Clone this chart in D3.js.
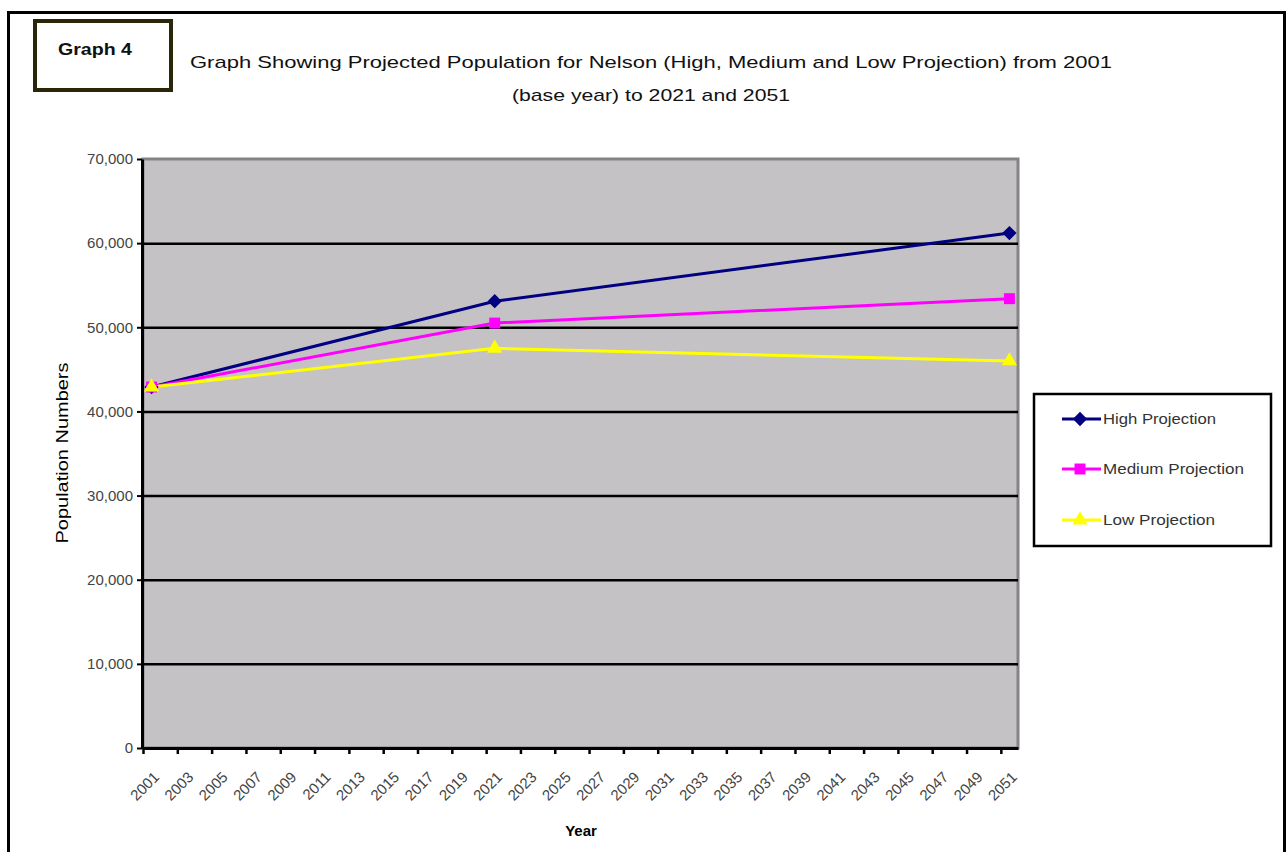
<!DOCTYPE html>
<html>
<head>
<meta charset="utf-8">
<script src="https://cdn.jsdelivr.net/npm/d3@7/dist/d3.min.js"></script>
<style>
  html, body { margin: 0; padding: 0; background: #fff; }
  svg { display: block; font-family: "Liberation Sans", Arial, sans-serif; }
</style>
</head>
<body>
<svg id="chart" width="1287" height="852"></svg>
<script>
// Projected population for Nelson, three projection scenarios
const firstYear = 2001;
const lastYear = 2051;
const tickYears = [2001, 2003, 2005, 2007, 2009, 2011, 2013, 2015, 2017, 2019, 2021, 2023, 2025,
                   2027, 2029, 2031, 2033, 2035, 2037, 2039, 2041, 2043, 2045, 2047, 2049, 2051];
const yTicks = [0, 10000, 20000, 30000, 40000, 50000, 60000, 70000];
const dataYears = [2001, 2021, 2051];
const highProjection = [42900, 53100, 61200];
const mediumProjection = [42900, 50500, 53400];
const lowProjection = [42900, 47500, 46000];
const seriesNames = ["High Projection", "Medium Projection", "Low Projection"];

const diamond = d3.symbolDiamond2 || d3.symbolDiamond;
const series = [
  { name: seriesNames[0], values: highProjection, color: "#000080", symbol: diamond, size: 130, legendLen: 113 },
  { name: seriesNames[1], values: mediumProjection, color: "#FF00FF", symbol: d3.symbolSquare, size: 120, legendLen: 141 },
  { name: seriesNames[2], values: lowProjection, color: "#FFFF00", symbol: d3.symbolTriangle, size: 100, legendLen: 112 }
];

const svg = d3.select("#chart");

// page frame
svg.append("rect")
  .attr("x", 8.5).attr("y", 12.5).attr("width", 1276).attr("height", 900)
  .attr("fill", "none").attr("stroke", "#000").attr("stroke-width", 3);

// "Graph 4" label box
svg.append("rect")
  .attr("x", 35).attr("y", 21).attr("width", 136).attr("height", 69)
  .attr("fill", "#fff").attr("stroke", "#2b2608").attr("stroke-width", 4);
svg.append("text")
  .attr("x", 95).attr("y", 55).attr("text-anchor", "middle")
  .attr("font-size", 17).attr("font-weight", "bold").attr("fill", "#111")
  .attr("textLength", 74).attr("lengthAdjust", "spacingAndGlyphs")
  .text("Graph 4");

// title
svg.append("text")
  .attr("x", 651).attr("y", 68).attr("text-anchor", "middle")
  .attr("font-size", 17).attr("fill", "#111")
  .attr("textLength", 922).attr("lengthAdjust", "spacingAndGlyphs")
  .text("Graph Showing Projected Population for Nelson (High, Medium and Low Projection) from 2001");
svg.append("text")
  .attr("x", 651).attr("y", 101).attr("text-anchor", "middle")
  .attr("font-size", 17).attr("fill", "#111")
  .attr("textLength", 278).attr("lengthAdjust", "spacingAndGlyphs")
  .text("(base year) to 2021 and 2051");

// plot area
const plot = { left: 143, right: 1018, top: 159, bottom: 748 };

const x = d3.scaleLinear()
  .domain([firstYear - 0.5, lastYear + 0.5])
  .range([plot.left, plot.right]);
const y = d3.scaleLinear()
  .domain([0, 70000])
  .range([plot.bottom, plot.top]);

svg.append("rect")
  .attr("x", plot.left).attr("y", plot.top)
  .attr("width", plot.right - plot.left).attr("height", plot.bottom - plot.top)
  .attr("fill", "#C4C2C5").attr("stroke", "#858385").attr("stroke-width", 3);

// horizontal gridlines
svg.append("g")
  .attr("transform", `translate(${plot.left},0)`)
  .call(d3.axisLeft(y).tickValues(yTicks.filter(d => d > 0 && d < 70000))
    .tickSize(-(plot.right - plot.left)).tickFormat(""))
  .call(g => g.select(".domain").remove())
  .call(g => g.selectAll("line").attr("stroke", "#000").attr("stroke-width", 2.5));

// y axis
svg.append("g")
  .attr("transform", `translate(${plot.left - 1},0)`)
  .call(d3.axisLeft(y).tickValues(yTicks).tickFormat(d3.format(",")).tickSize(5).tickSizeOuter(0))
  .call(g => g.select(".domain").attr("stroke", "#000").attr("stroke-width", 3))
  .call(g => g.selectAll(".tick line").attr("stroke", "#000").attr("stroke-width", 2))
  .call(g => g.selectAll(".tick text")
    .attr("font-size", 15).attr("fill", "#444").attr("x", -9)
    .attr("font-family", "'Liberation Sans', Arial, sans-serif"));

// x axis: tick marks at category boundaries
svg.append("g")
  .attr("transform", `translate(0,${plot.bottom})`)
  .call(d3.axisBottom(x).tickValues(tickYears.map(d => d - 0.5)).tickFormat("").tickSize(6).tickSizeOuter(0))
  .call(g => g.select(".domain").attr("stroke", "#000").attr("stroke-width", 3))
  .call(g => g.selectAll(".tick line").attr("stroke", "#000").attr("stroke-width", 2.5));

// x axis: rotated year labels at category centres
svg.append("g")
  .attr("transform", `translate(0,${plot.bottom})`)
  .call(d3.axisBottom(x).tickValues(tickYears).tickFormat(d3.format("d")).tickSize(0))
  .call(g => g.select(".domain").remove())
  .call(g => g.selectAll(".tick text")
    .attr("font-size", 15).attr("fill", "#444")
    .attr("font-family", "'Liberation Sans', Arial, sans-serif")
    .attr("text-anchor", "end")
    .attr("dy", null).attr("y", 0)
    .attr("transform", "translate(8,30) rotate(-45)"));

// axis titles
svg.append("text")
  .attr("transform", `translate(68,453) rotate(-90)`)
  .attr("text-anchor", "middle").attr("font-size", 16).attr("fill", "#000")
  .attr("textLength", 181).attr("lengthAdjust", "spacingAndGlyphs")
  .text("Population Numbers");
svg.append("text")
  .attr("x", 581).attr("y", 836).attr("text-anchor", "middle")
  .attr("font-size", 15).attr("font-weight", "bold").attr("fill", "#000")
  .text("Year");

// series lines and markers
const line = d3.line()
  .x((d, i) => x(dataYears[i]))
  .y(d => y(d));

series.forEach(s => {
  svg.append("path")
    .datum(s.values)
    .attr("d", line)
    .attr("fill", "none")
    .attr("stroke", s.color)
    .attr("stroke-width", 3);
});
series.forEach(s => {
  svg.append("g").selectAll("path")
    .data(s.values)
    .join("path")
    .attr("transform", (d, i) => `translate(${x(dataYears[i])},${y(d)})`)
    .attr("d", d3.symbol().type(s.symbol).size(s.size))
    .attr("fill", s.color);
});

// legend
const legend = svg.append("g");
legend.append("rect")
  .attr("x", 1034).attr("y", 394).attr("width", 237).attr("height", 152)
  .attr("fill", "#fff").attr("stroke", "#000").attr("stroke-width", 2.5);
const legendRows = [419, 469, 520];
series.forEach((s, i) => {
  const ly = legendRows[i];
  legend.append("line")
    .attr("x1", 1062).attr("x2", 1101).attr("y1", ly).attr("y2", ly)
    .attr("stroke", s.color).attr("stroke-width", 3);
  legend.append("path")
    .attr("transform", `translate(1080,${ly})`)
    .attr("d", d3.symbol().type(s.symbol).size(s.size))
    .attr("fill", s.color);
  legend.append("text")
    .attr("x", 1103).attr("y", ly + 5)
    .attr("font-size", 15).attr("fill", "#333")
    .attr("textLength", s.legendLen).attr("lengthAdjust", "spacingAndGlyphs")
    .text(s.name);
});
</script>
</body>
</html>
